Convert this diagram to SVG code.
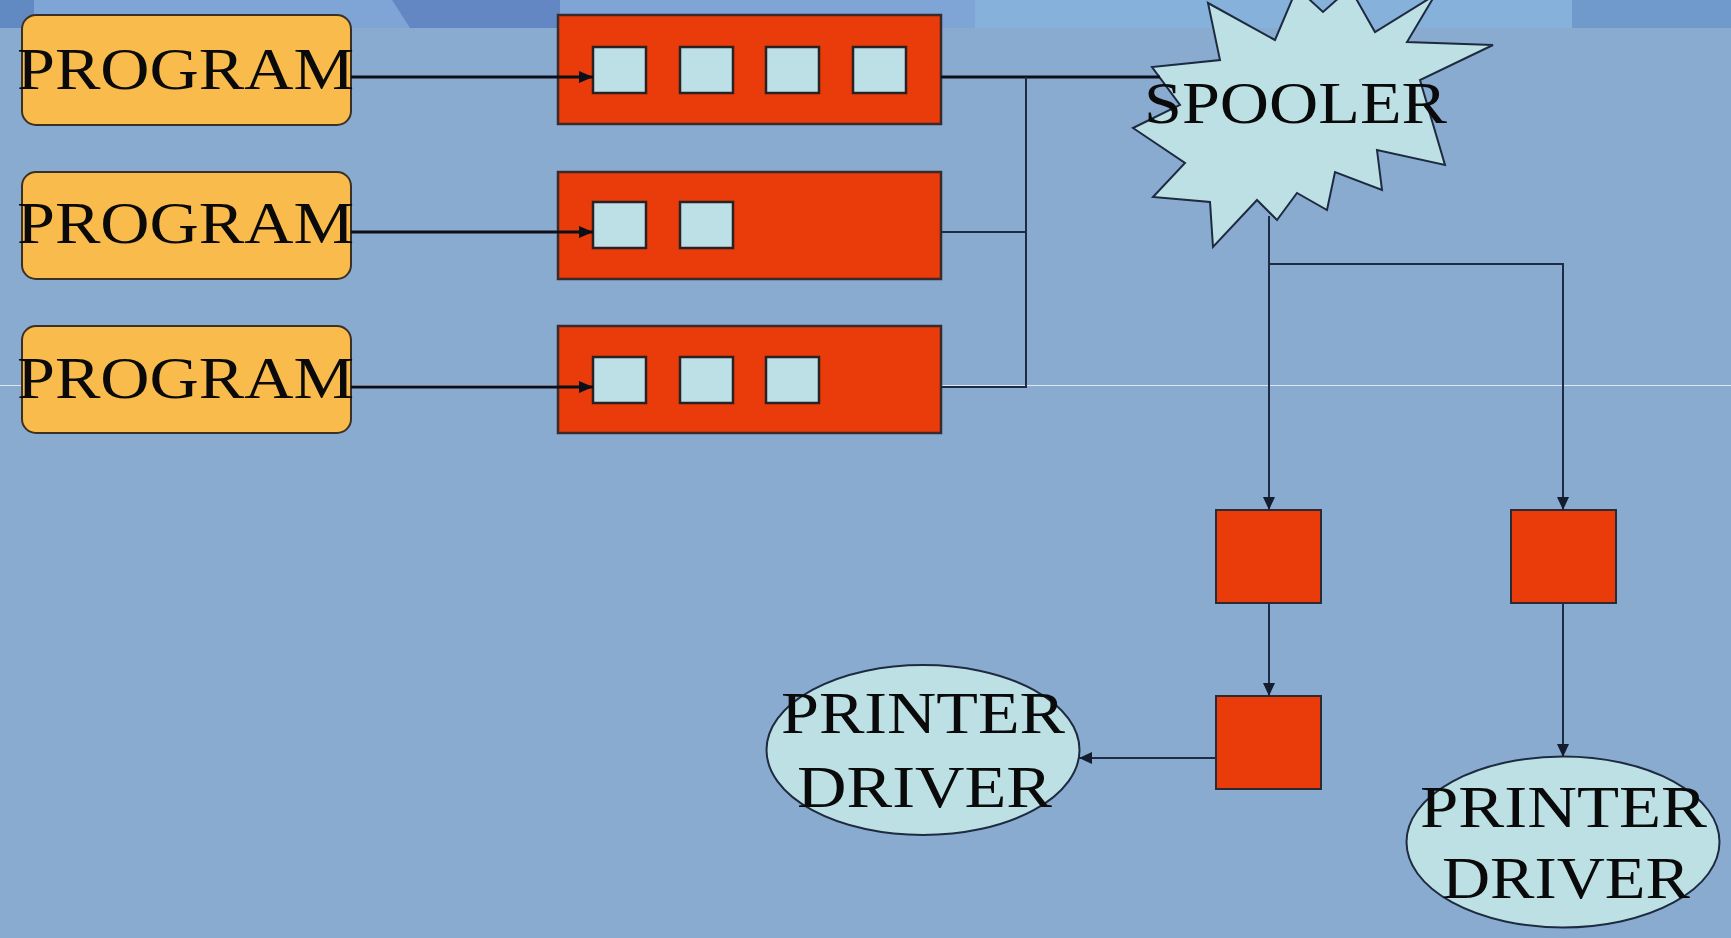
<svg xmlns="http://www.w3.org/2000/svg" width="1731" height="938" viewBox="0 0 1731 938">
  <style>
    .bg { fill: #8aabd0; }
    .prog { fill: #f8bb4c; stroke: #3a3026; stroke-width: 2; }
    .queue { fill: #ea3b0a; stroke: #3b2a2a; stroke-width: 2.5; }
    .slot { fill: #bde0e6; stroke: #2a2222; stroke-width: 2.5; }
    .buf { fill: #ea3b0a; stroke: #2b2a33; stroke-width: 2; }
    .light { fill: #bde0e4; stroke: #1e2a40; stroke-width: 2; }
    .lbl { font-family: "Liberation Serif", "Times New Roman", serif; font-size: 59px; fill: #0a0a0a; }
    .heavy { fill: none; stroke: #0d0f18; stroke-width: 3; }
    .thin { fill: none; stroke: #1e2b45; stroke-width: 2; }
  </style>
  <defs>
    <marker id="tipBig" viewBox="0 0 14 12" refX="14" refY="6" markerWidth="14" markerHeight="12" markerUnits="userSpaceOnUse" orient="auto">
      <path d="M0,0 L14,6 L0,12 Z" fill="#0d0f18"/>
    </marker>
    <marker id="tip" viewBox="0 0 13 12" refX="13" refY="6" markerWidth="13" markerHeight="12" markerUnits="userSpaceOnUse" orient="auto">
      <path d="M0,0 L13,6 L0,12 Z" fill="#141c30"/>
    </marker>
  </defs>

  <!-- backdrop -->
  <rect class="bg" x="0" y="0" width="1731" height="938"/>
  <g id="banner">
    <rect x="0" y="0" width="1731" height="28" fill="#7ea5d6"/>
    <rect x="0" y="0" width="34" height="28" fill="#6189c2"/>
    <polygon points="392,0 560,0 560,28 410,28" fill="#6387c2"/>
    <rect x="975" y="0" width="597" height="28" fill="#86b1da"/>
    <rect x="1572" y="0" width="159" height="28" fill="#709acb"/>
  </g>
  <line x1="0" y1="385.5" x2="1731" y2="385.5" stroke="#ffffff" stroke-opacity="0.7" stroke-width="1"/>

  <!-- programs -->
  <g id="program-1">
    <rect class="prog" x="22" y="15" width="329" height="110" rx="14"/>
    <text class="lbl" x="17" y="89" textLength="337" lengthAdjust="spacingAndGlyphs">PROGRAM</text>
  </g>
  <g id="program-2">
    <rect class="prog" x="22" y="172" width="329" height="107" rx="14"/>
    <text class="lbl" x="17" y="243" textLength="337" lengthAdjust="spacingAndGlyphs">PROGRAM</text>
  </g>
  <g id="program-3">
    <rect class="prog" x="22" y="326" width="329" height="107" rx="14"/>
    <text class="lbl" x="17" y="398" textLength="337" lengthAdjust="spacingAndGlyphs">PROGRAM</text>
  </g>

  <!-- job queues -->
  <g id="queue-1">
    <rect class="queue" x="558" y="15" width="383" height="109"/>
    <rect class="slot" x="593" y="47" width="53" height="46"/>
    <rect class="slot" x="680" y="47" width="53" height="46"/>
    <rect class="slot" x="766" y="47" width="53" height="46"/>
    <rect class="slot" x="853" y="47" width="53" height="46"/>
  </g>
  <g id="queue-2">
    <rect class="queue" x="558" y="172" width="383" height="107"/>
    <rect class="slot" x="593" y="202" width="53" height="46"/>
    <rect class="slot" x="680" y="202" width="53" height="46"/>
  </g>
  <g id="queue-3">
    <rect class="queue" x="558" y="326" width="383" height="107"/>
    <rect class="slot" x="593" y="357" width="53" height="46"/>
    <rect class="slot" x="680" y="357" width="53" height="46"/>
    <rect class="slot" x="766" y="357" width="53" height="46"/>
  </g>

  <!-- spooler -->
  <g id="spooler">
    <polygon class="light" points="1208,3 1275,40 1297,-12 1323,12 1350,-12 1375,32 1435,-5 1407,42 1493,45 1420,80 1445,165 1377,150 1382,190 1335,172 1327,210 1297,193 1277,220 1257,200 1213,247 1210,202 1153,197 1185,163 1133,128 1180,105 1152,67 1220,60"/>
    <text class="lbl" x="1144" y="123" textLength="303" lengthAdjust="spacingAndGlyphs">SPOOLER</text>
  </g>

  <!-- print buffers -->
  <g id="buffer-a">
    <rect class="buf" x="1216" y="510" width="105" height="93"/>
  </g>
  <g id="buffer-b">
    <rect class="buf" x="1216" y="696" width="105" height="93"/>
  </g>
  <g id="buffer-c">
    <rect class="buf" x="1511" y="510" width="105" height="93"/>
  </g>

  <!-- printer drivers -->
  <g id="driver-1">
    <ellipse class="light" cx="923" cy="750" rx="156.5" ry="85"/>
    <text class="lbl" x="781" y="733" textLength="284" lengthAdjust="spacingAndGlyphs">PRINTER</text>
    <text class="lbl" x="797" y="807" textLength="255" lengthAdjust="spacingAndGlyphs">DRIVER</text>
  </g>
  <g id="driver-2">
    <ellipse class="light" cx="1563" cy="842" rx="156.5" ry="85.5"/>
    <text class="lbl" x="1420" y="827" textLength="287" lengthAdjust="spacingAndGlyphs">PRINTER</text>
    <text class="lbl" x="1442" y="898" textLength="248" lengthAdjust="spacingAndGlyphs">DRIVER</text>
  </g>

  <!-- connectors, drawn over the boxes they run into -->
  <g id="connectors">
    <line class="heavy" x1="351" y1="77" x2="593" y2="77" marker-end="url(#tipBig)"/>
    <line class="heavy" x1="351" y1="232" x2="593" y2="232" marker-end="url(#tipBig)"/>
    <line class="heavy" x1="351" y1="387" x2="593" y2="387" marker-end="url(#tipBig)"/>
    <line class="heavy" x1="941" y1="77" x2="1160" y2="77"/>
    <polyline class="thin" points="941,232 1026,232"/>
    <polyline class="thin" points="941,387 1026,387 1026,77"/>
    <line class="thin" x1="1269" y1="216" x2="1269" y2="510" marker-end="url(#tip)"/>
    <polyline class="thin" points="1269,264 1563,264 1563,510" marker-end="url(#tip)"/>
    <line class="thin" x1="1269" y1="603" x2="1269" y2="696" marker-end="url(#tip)"/>
    <line class="thin" x1="1563" y1="603" x2="1563" y2="757" marker-end="url(#tip)"/>
    <line class="thin" x1="1216" y1="758" x2="1079" y2="758" marker-end="url(#tip)"/>
  </g>
</svg>
